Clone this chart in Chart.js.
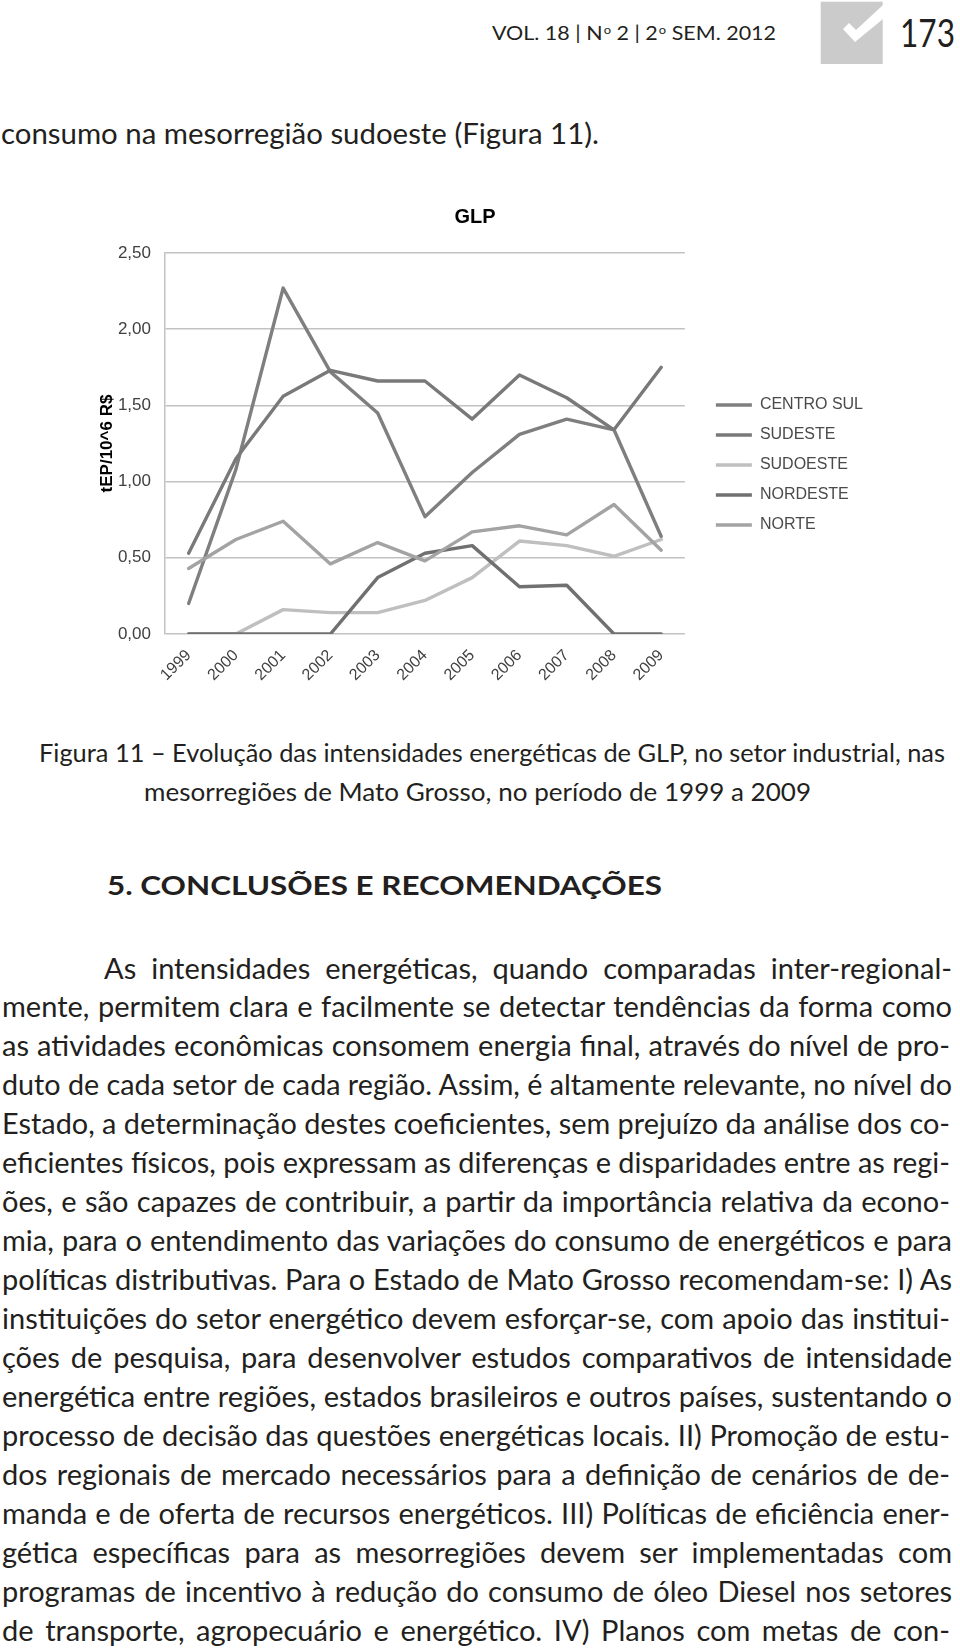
<!DOCTYPE html>
<html lang="pt">
<head>
<meta charset="utf-8">
<title>GLP – Figura 11</title>
<script src="https://cdn.jsdelivr.net/npm/chart.js@4.4.1/dist/chart.umd.min.js"></script>
<style>
  html, body { margin: 0; padding: 0; background: #fff; }
  body {
    width: 960px; height: 1652px; position: relative; overflow: hidden;
    font-family: Lato, "Open Sans", sans-serif; color: #231f20;
  }
  .t { position: absolute; white-space: nowrap; transform-origin: 0 0; line-height: 1.2; }
  .hdr { font-size: 19px; }
  .hdr sup { font-size: 0.6em; vertical-align: 0.5em; line-height: 0; margin-left: 1px; }
  .pg { font-size: 39px; }
  .txt { font-size: 29px; }
  .cap { font-size: 25px; }
  .h2 { font-size: 27px; font-weight: 700; }
  #badge { position: absolute; left: 820px; top: 1px; }
  #chartBox { position: absolute; left: 77px; top: 195px; width: 801px; height: 530px; }
</style>
</head>
<body>

<!-- page header -->
<div class="t hdr" data-x="492" data-b="39.5" data-w="284">VOL. 18 | N<sup>o</sup> 2 | 2<sup>o</sup> SEM. 2012</div>
<svg id="badge" width="64" height="64" viewBox="820 1 64 64">
  <rect x="820.7" y="1.7" width="62" height="62.3" fill="#cbcbcb"/>
  <polygon points="843,29 849,23 856,30 883,5 883,19 855,42" fill="#fff"/>
</svg>
<div class="t pg" data-x="900" data-b="46.7" data-w="55">173</div>

<div class="t txt" data-x="1" data-b="144" data-w="598">consumo na mesorregião sudoeste (Figura 11).</div>

<!-- figure -->
<div id="chartBox"><canvas id="glp"></canvas></div>

<div class="t cap" data-x="39" data-b="762" data-w="906">Figura 11 – Evolução das intensidades energéticas de GLP, no setor industrial, nas</div>
<div class="t cap" data-x="144" data-b="801" data-w="667">mesorregiões de Mato Grosso, no período de 1999 a 2009</div>

<div class="t h2" data-x="107" data-b="895" data-w="555">5. CONCLUSÕES E RECOMENDAÇÕES</div>

<!-- body paragraph, one div per printed line -->
<div class="t txt j ln" data-x="104" data-w="848">As intensidades energéticas, quando comparadas inter-regional-</div>
<div class="t txt j ln" data-x="2" data-w="950">mente, permitem clara e facilmente se detectar tendências da forma como</div>
<div class="t txt j ln" data-x="2" data-w="948">as atividades econômicas consomem energia final, através do nível de pro-</div>
<div class="t txt j ln" data-x="2" data-w="950">duto de cada setor de cada região. Assim, é altamente relevante, no nível do</div>
<div class="t txt j ln" data-x="2" data-w="948">Estado, a determinação destes coeficientes, sem prejuízo da análise dos co-</div>
<div class="t txt j ln" data-x="2" data-w="948">eficientes físicos, pois expressam as diferenças e disparidades entre as regi-</div>
<div class="t txt j ln" data-x="2" data-w="948">ões, e são capazes de contribuir, a partir da importância relativa da econo-</div>
<div class="t txt j ln" data-x="2" data-w="950">mia, para o entendimento das variações do consumo de energéticos e para</div>
<div class="t txt j ln" data-x="2" data-w="950">políticas distributivas. Para o Estado de Mato Grosso recomendam-se: I) As</div>
<div class="t txt j ln" data-x="2" data-w="948">instituições do setor energético devem esforçar-se, com apoio das institui-</div>
<div class="t txt j ln" data-x="2" data-w="950">ções de pesquisa, para desenvolver estudos comparativos de intensidade</div>
<div class="t txt j ln" data-x="2" data-w="950">energética entre regiões, estados brasileiros e outros países, sustentando o</div>
<div class="t txt j ln" data-x="2" data-w="948">processo de decisão das questões energéticas locais. II) Promoção de estu-</div>
<div class="t txt j ln" data-x="2" data-w="948">dos regionais de mercado necessários para a definição de cenários de de-</div>
<div class="t txt j ln" data-x="2" data-w="948">manda e de oferta de recursos energéticos. III) Políticas de eficiência ener-</div>
<div class="t txt j ln" data-x="2" data-w="950">gética específicas para as mesorregiões devem ser implementadas com</div>
<div class="t txt j ln" data-x="2" data-w="950">programas de incentivo à redução do consumo de óleo Diesel nos setores</div>
<div class="t txt j ln" data-x="2" data-w="948">de transporte, agropecuário e energético. IV) Planos com metas de con-</div>

<script>
/* ── Chart data ───────────────────────────────────────────── */
const years = ['1999', '2000', '2001', '2002', '2003', '2004', '2005', '2006', '2007', '2008', '2009'];

const centroSul = [0.20, 1.08, 2.27, 1.72, 1.45, 0.77, 1.06, 1.31, 1.41, 1.34, 0.64];
const sudeste   = [0.53, 1.15, 1.56, 1.73, 1.66, 1.66, 1.41, 1.70, 1.55, 1.34, 1.75];
const sudoeste  = [0.00, 0.00, 0.16, 0.14, 0.14, 0.22, 0.37, 0.61, 0.58, 0.51, 0.62];
const nordeste  = [0.00, 0.00, 0.00, 0.00, 0.37, 0.53, 0.58, 0.31, 0.32, 0.00, 0.00];
const norte     = [0.43, 0.62, 0.74, 0.46, 0.60, 0.48, 0.67, 0.71, 0.65, 0.85, 0.55];

const seriesNames  = ['CENTRO SUL', 'SUDESTE', 'SUDOESTE', 'NORDESTE', 'NORTE'];
const seriesValues = [centroSul, sudeste, sudoeste, nordeste, norte];
const seriesColors = ['#7f7f7f', '#797979', '#bfbfbf', '#707070', '#a3a3a3'];

const yMin = 0, yMax = 2.5, yStep = 0.5;

/* ── Chart ──────────────────────────────────────────────────── */
const FONT = '"Liberation Sans", Arial, sans-serif';
const GRID = '#c2c2c2';
const TICK = '#404040';

Chart.defaults.font.family = FONT;

new Chart(document.getElementById('glp'), {
    type: 'line',
    data: {
        labels: years,
        datasets: seriesNames.map((name, i) => ({
            label: name,
            data: seriesValues[i],
            borderColor: seriesColors[i],
            backgroundColor: seriesColors[i],
            borderWidth: 3.4,
            pointRadius: 0,
            pointBorderWidth: 3.5,
            tension: 0,
            borderJoinStyle: 'round',
            borderCapStyle: 'round',
            order: seriesNames.length - 1 - i,   // later series drawn on top, like the original
        })),
    },
    options: {
        responsive: true,
        maintainAspectRatio: false,
        animation: false,
        layout: { padding: { top: 10, right: 5, bottom: 0, left: 0 } },
        plugins: {
            title: {
                display: true,
                text: 'GLP',
                color: '#000',
                font: { size: 20, weight: 'bold' },
                padding: { top: 0, bottom: 24 },
            },
            legend: {
                position: 'right',
                maxWidth: 220,
                labels: {
                    usePointStyle: true,
                    pointStyle: 'line',
                    pointStyleWidth: 36,
                    padding: 14,
                    color: '#4a4a4a',
                    font: { size: 16 },
                    sort: (a, b) => a.datasetIndex - b.datasetIndex,
                },
            },
            tooltip: { enabled: false },
        },
        scales: {
            x: {
                offset: true,
                grid: { display: false, drawTicks: false },
                border: { display: false },
                ticks: {
                    color: TICK,
                    font: { size: 16 },
                    minRotation: 45,
                    maxRotation: 45,
                    autoSkip: false,
                    padding: 12,
                },
                afterFit: s => { s.height = 91; },
            },
            y: {
                min: yMin,
                max: yMax,
                ticks: {
                    stepSize: yStep,
                    color: TICK,
                    font: { size: 17 },
                    padding: 14,
                    callback: v => v.toFixed(2).replace('.', ','),
                },
                grid: { color: GRID, lineWidth: 1.5, drawTicks: false },
                border: { display: true, color: GRID, width: 1.5 },
                title: {
                    display: true,
                    text: 'tEP/10^6 R$',
                    color: '#000',
                    font: { size: 17, weight: 'bold' },
                    padding: { top: 20, bottom: 0 },
                },
                afterFit: s => { s.width = 88; },
            },
            // empty spacer between plot and legend
            gap: {
                type: 'linear',
                axis: 'y',
                position: 'right',
                grid: { display: false },
                border: { display: false },
                ticks: { display: false },
                afterFit: s => { s.width = 17; },
            },
        },
    },
});

/* ── Page text: place by baseline, fit to printed width ───── */
const BODY_FIRST_BASELINE = 978.5;
const BODY_LEADING = 38.95;

document.querySelectorAll('.ln').forEach((el, i) => {
    el.dataset.b = BODY_FIRST_BASELINE + i * BODY_LEADING;
});

document.querySelectorAll('.t').forEach(el => {
    const x = +el.dataset.x, b = +el.dataset.b, w = +el.dataset.w;
    el.style.left = x + 'px';

    const probe = document.createElement('span');
    probe.style.cssText = 'display:inline-block;width:0;height:0;vertical-align:baseline';
    el.appendChild(probe);
    const off = probe.getBoundingClientRect().top - el.getBoundingClientRect().top;
    el.removeChild(probe);
    el.style.top = (b - off) + 'px';

    if (!w) return;
    const nat = el.getBoundingClientRect().width;
    if (el.classList.contains('j')) {
        const spaces = (el.textContent.match(/ /g) || []).length;
        if (nat < w && spaces) {
            el.style.wordSpacing = ((w - nat) / spaces) + 'px';
            return;
        }
    }
    el.style.transform = 'scaleX(' + (w / nat) + ')';
});
</script>
</body>
</html>
